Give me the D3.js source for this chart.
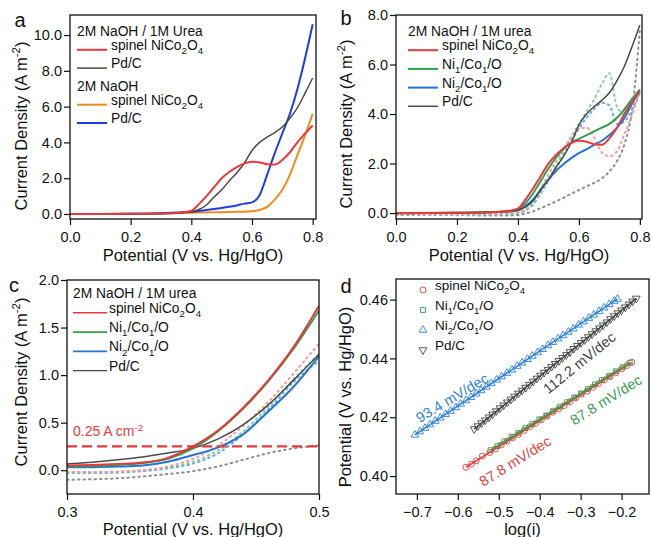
<!DOCTYPE html>
<html>
<head>
<meta charset="utf-8">
<script src="https://cdn.jsdelivr.net/npm/d3@7"></script>
<style>
  body { margin: 0; background: #fff; }
  text { font-family: Arial, "Liberation Sans", sans-serif; fill: #111; }
</style>
</head>
<body>
<svg id="fig" width="651" height="537"></svg>
<script>
// ---- panel a / b : LSV curves, potential grid (V vs Hg/HgO)
const potAB = [0, 0.1, 0.2, 0.3, 0.35, 0.4, 0.425, 0.45, 0.475, 0.5, 0.525, 0.55, 0.575, 0.6, 0.625, 0.65, 0.675, 0.7, 0.725, 0.75, 0.775, 0.8];

// 2M NaOH / 1M urea
const spinelUrea = [0, 0, 0.01, 0.03, 0.06, 0.18, 0.55, 1.0, 1.5, 2.0, 2.35, 2.62, 2.83, 2.92, 2.88, 2.78, 2.76, 3.02, 3.45, 4.02, 4.5, 4.95];
const pdcUrea = [-0.02, -0.01, 0, 0.03, 0.06, 0.12, 0.25, 0.5, 0.95, 1.35, 1.85, 2.3, 2.85, 3.55, 4.0, 4.3, 4.55, 4.86, 5.35, 5.95, 6.75, 7.6];
const ni1Urea = [0, 0, 0.01, 0.03, 0.05, 0.12, 0.4, 0.8, 1.3, 1.8, 2.25, 2.6, 2.85, 3.0, 3.15, 3.3, 3.45, 3.6, 3.85, 4.2, 4.62, 5.0];
const ni2Urea = [0, 0, 0.01, 0.03, 0.05, 0.1, 0.28, 0.55, 0.95, 1.35, 1.7, 1.98, 2.22, 2.42, 2.58, 2.75, 2.92, 3.15, 3.45, 3.85, 4.45, 4.92];
// 2M NaOH only
const spinelNaOH = [0, 0, 0.01, 0.03, 0.05, 0.07, 0.08, 0.09, 0.095, 0.1, 0.11, 0.12, 0.13, 0.15, 0.22, 0.4, 0.8, 1.35, 2.2, 3.3, 4.4, 5.6];
const pdcNaOH = [0, 0, 0.01, 0.04, 0.08, 0.13, 0.17, 0.22, 0.28, 0.34, 0.4, 0.48, 0.58, 0.65, 1.05, 2.2, 3.4, 4.5, 5.6, 7.0, 8.7, 10.6];
// dotted curves in b
const spinelRev = [-0.05, -0.05, -0.05, -0.04, -0.02, 0.02, 0.15, 0.5, 1.0, 1.55, 2.1, 2.6, 3.05, 3.4, 3.45, 3.05, 2.45, 2.3, 2.5, 3.2, 4.0, 4.9];
const ni1Rev = [-0.06, -0.06, -0.06, -0.05, -0.04, 0.0, 0.1, 0.4, 0.85, 1.35, 1.9, 2.5, 3.1, 3.6, 4.1, 4.6, 5.2, 5.65, 4.3, 4.0, 4.4, 4.95];
const ni2Rev = [-0.06, -0.06, -0.06, -0.05, -0.04, 0.0, 0.1, 0.35, 0.8, 1.3, 1.8, 2.35, 2.9, 3.4, 3.85, 4.2, 4.45, 4.35, 3.6, 3.7, 4.2, 4.85];
const pdcRev = [-0.08, -0.08, -0.08, -0.1, -0.1, -0.08, -0.02, 0.07, 0.2, 0.33, 0.47, 0.62, 0.78, 0.93, 1.08, 1.22, 1.4, 1.68, 2.1, 2.8, 4.2, 7.4];

// ---- panel c : zoom 0.3-0.5 V
const potC = [0.3, 0.32, 0.34, 0.36, 0.38, 0.4, 0.42, 0.44, 0.46, 0.48, 0.5];
const spinelC = [0.05, 0.055, 0.065, 0.08, 0.13, 0.25, 0.42, 0.66, 0.95, 1.3, 1.73];
const ni1C = [0.04, 0.045, 0.055, 0.075, 0.12, 0.23, 0.41, 0.65, 0.94, 1.28, 1.68];
const ni2C = [0.03, 0.032, 0.038, 0.05, 0.09, 0.16, 0.24, 0.38, 0.62, 0.88, 1.2];
const pdcC = [0.065, 0.085, 0.11, 0.14, 0.18, 0.23, 0.33, 0.48, 0.69, 0.95, 1.22];
const spinelCRev = [-0.02, -0.02, -0.015, 0.0, 0.04, 0.12, 0.26, 0.47, 0.72, 1.02, 1.33];
const ni1CRev = [-0.02, -0.02, -0.015, 0.0, 0.03, 0.09, 0.21, 0.41, 0.67, 0.96, 1.22];
const ni2CRev = [-0.03, -0.03, -0.025, -0.01, 0.02, 0.07, 0.18, 0.38, 0.64, 0.93, 1.15];
const pdcCRev = [-0.1, -0.095, -0.085, -0.065, -0.04, -0.01, 0.04, 0.11, 0.18, 0.23, 0.26];
const refCurrent = 0.25;

// ---- panel d : Tafel data, log(i) and potential
const spinelLog = [-0.580, -0.567, -0.555, -0.540, -0.522, -0.508, -0.494, -0.480, -0.466, -0.452, -0.438, -0.424, -0.410, -0.396, -0.382, -0.368, -0.354, -0.340, -0.326, -0.312, -0.298, -0.284, -0.270, -0.256, -0.242, -0.228, -0.214, -0.200, -0.187, -0.175];
const spinelE = [0.4030, 0.4040, 0.4052, 0.4068, 0.4080, 0.4092, 0.4106, 0.4119, 0.4130, 0.4141, 0.4155, 0.4168, 0.4179, 0.4191, 0.4204, 0.4217, 0.4228, 0.4240, 0.4253, 0.4266, 0.4278, 0.4289, 0.4302, 0.4315, 0.4327, 0.4338, 0.4351, 0.4364, 0.4376, 0.4387];
const ni1Log = [-0.520, -0.503, -0.486, -0.469, -0.452, -0.435, -0.418, -0.401, -0.384, -0.367, -0.350, -0.333, -0.316, -0.299, -0.282, -0.265, -0.248, -0.231, -0.214, -0.197, -0.180];
const ni1E = [0.4088, 0.4102, 0.4118, 0.4134, 0.4147, 0.4163, 0.4177, 0.4193, 0.4206, 0.4222, 0.4236, 0.4251, 0.4267, 0.4281, 0.4296, 0.4311, 0.4326, 0.4341, 0.4356, 0.4370, 0.4385];
const ni2Log = [-0.705, -0.693, -0.680, -0.668, -0.655, -0.643, -0.630, -0.618, -0.605, -0.593, -0.580, -0.568, -0.555, -0.543, -0.530, -0.518, -0.505, -0.493, -0.480, -0.468, -0.455, -0.443, -0.430, -0.418, -0.405, -0.393, -0.380, -0.368, -0.355, -0.343, -0.330, -0.318, -0.305, -0.293, -0.280, -0.268, -0.255, -0.243, -0.230, -0.218, -0.210];
const ni2E = [0.4140, 0.4151, 0.4163, 0.4175, 0.4187, 0.4198, 0.4210, 0.4221, 0.4233, 0.4245, 0.4257, 0.4268, 0.4280, 0.4291, 0.4303, 0.4315, 0.4327, 0.4338, 0.4350, 0.4361, 0.4374, 0.4385, 0.4397, 0.4408, 0.4420, 0.4431, 0.4444, 0.4455, 0.4467, 0.4478, 0.4490, 0.4501, 0.4514, 0.4525, 0.4537, 0.4548, 0.4560, 0.4572, 0.4584, 0.4595, 0.4602];
const pdcLog = [-0.560, -0.551, -0.542, -0.533, -0.524, -0.515, -0.506, -0.497, -0.488, -0.479, -0.470, -0.461, -0.452, -0.443, -0.434, -0.425, -0.416, -0.407, -0.398, -0.389, -0.380, -0.371, -0.362, -0.353, -0.344, -0.335, -0.326, -0.317, -0.308, -0.299, -0.290, -0.281, -0.272, -0.263, -0.254, -0.245, -0.236, -0.227, -0.218, -0.209, -0.200, -0.191, -0.182, -0.173, -0.164];
const pdcE = [0.4160, 0.4170, 0.4180, 0.4190, 0.4200, 0.4210, 0.4221, 0.4231, 0.4241, 0.4251, 0.4261, 0.4271, 0.4281, 0.4291, 0.4301, 0.4311, 0.4322, 0.4332, 0.4342, 0.4352, 0.4362, 0.4372, 0.4382, 0.4392, 0.4402, 0.4412, 0.4422, 0.4433, 0.4443, 0.4453, 0.4463, 0.4473, 0.4483, 0.4493, 0.4503, 0.4513, 0.4523, 0.4534, 0.4544, 0.4554, 0.4564, 0.4574, 0.4584, 0.4594, 0.4604];
const tafelLabels = ["93.4 mV/dec", "112.2 mV/dec", "87.8 mV/dec", "87.8 mV/dec"];

// colours
const RED = "#e5393d", GRAY = "#4a4a4a", ORANGE = "#f18b1c", BLUE_A = "#2339e3",
      GREEN = "#2ea14f", BLUE = "#2474d8";
const RED_L = "#f29b9b", GREEN_L = "#86d198", BLUE_L = "#63aee8", GRAY_L = "#8e8e8e";

const svg = d3.select("#fig");
svg.append("rect").attr("width", 651).attr("height", 537).attr("fill", "#fff");

// rich text with sub/superscripts: parts = [[text, 0|1|2]], 1 = sub, 2 = sup
function rich(sel, parts, fs) {
    let shift = 0;
    parts.forEach(([t, k]) => {
        const target = k === 1 ? fs * 0.3 : k === 2 ? -fs * 0.4 : 0;
        sel.append("tspan")
            .attr("dy", target - shift)
            .attr("font-size", k ? fs * 0.7 : fs)
            .text(t);
        shift = target;
    });
    return sel;
}

let clipId = 0;
function panel(o) {
    const g = svg.append("g");
    const x = d3.scaleLinear().domain(o.xd).range([o.l, o.r]);
    const y = d3.scaleLinear().domain(o.yd).range([o.b, o.t]);

    const id = "clip" + (clipId++);
    g.append("clipPath").attr("id", id).append("rect")
        .attr("x", o.l).attr("y", o.t).attr("width", o.r - o.l).attr("height", o.b - o.t);
    const plot = g.append("g").attr("clip-path", `url(#${id})`);

    const xa = g.append("g")
        .attr("transform", `translate(0,${o.b})`)
        .call(d3.axisBottom(x).tickValues(o.xt).tickFormat(d3.format(o.xf)).tickSize(6).tickPadding(7));
    const ya = g.append("g")
        .attr("transform", `translate(${o.l},0)`)
        .call(d3.axisLeft(y).tickValues(o.yt).tickFormat(d3.format(o.yf)).tickSize(6).tickPadding(2));
    [xa, ya].forEach(a => {
        a.select(".domain").remove();
        a.selectAll("line").attr("stroke", "#111").attr("stroke-width", 1.2);
        a.selectAll("text").attr("font-size", 14.5).attr("fill", "#111")
            .style("font-family", "Arial, 'Liberation Sans', sans-serif");
    });

    g.append("rect")
        .attr("x", o.l).attr("y", o.t).attr("width", o.r - o.l).attr("height", o.b - o.t)
        .attr("fill", "none").attr("stroke", "#111").attr("stroke-width", 1.3);

    // axis titles
    rich(g.append("text").attr("x", (o.l + o.r) / 2).attr("y", o.xty)
        .attr("text-anchor", "middle").attr("font-size", 16.5), o.xtitle, 16.5);
    rich(g.append("text")
        .attr("transform", `translate(${o.ytx},${o.yty}) rotate(-90)`)
        .attr("text-anchor", "middle").attr("font-size", 16.5), o.ytitle, 16.5);

    g.append("text").attr("x", o.lx).attr("y", o.ly)
        .attr("font-size", 20).attr("text-anchor", "middle").text(o.letter);

    return {g, plot, x, y};
}

function curve(p, xs, ys, color, width, dotted) {
    const line = d3.line()
        .x((d, i) => p.x(xs[i]))
        .y(d => p.y(d))
        .curve(d3.curveMonotoneX);
    const path = p.plot.append("path")
        .attr("d", line(ys))
        .attr("fill", "none")
        .attr("stroke", color)
        .attr("stroke-width", width)
        .attr("stroke-linejoin", "round");
    if (dotted) path.attr("stroke-dasharray", "1.5,4").attr("stroke-linecap", "round");
}

function legendLines(g, items, x0, x1, tx, y0, dy, fs, title) {
    let row = 0;
    if (title) {
        g.append("text").attr("x", x0).attr("y", y0).attr("dy", "0.35em")
            .attr("font-size", fs).text(title);
        row = 1;
    }
    items.forEach(it => {
        const yy = y0 + dy * row;
        if (it.header) {
            g.append("text").attr("x", x0).attr("y", yy).attr("dy", "0.35em")
                .attr("font-size", fs).text(it.header);
        } else {
            g.append("line").attr("x1", x0).attr("x2", x1).attr("y1", yy).attr("y2", yy)
                .attr("stroke", it.color).attr("stroke-width", it.w);
            rich(g.append("text").attr("x", tx).attr("y", yy).attr("dy", "0.35em")
                .attr("font-size", fs), it.label, fs);
        }
        row++;
    });
}

const lblSpinel = [["spinel NiCo", 0], ["2", 1], ["O", 0], ["4", 1]];
const lblNi1 = [["Ni", 0], ["1", 1], ["/Co", 0], ["1", 1], ["/O", 0]];
const lblNi2 = [["Ni", 0], ["2", 1], ["/Co", 0], ["1", 1], ["/O", 0]];
const lblPd = [["Pd/C", 0]];
const titlePot = [["Potential (V vs. Hg/HgO)", 0]];
const titleCD = [["Current Density (A m", 0], ["-2", 2], [")", 0]];

// ---------------- panel a
const pa = panel({
    l: 70, r: 316, t: 15, b: 219,
    xd: [0, 0.811], yd: [-0.28, 11.12],
    xt: [0, 0.2, 0.4, 0.6, 0.8], xf: ".1f",
    yt: [0, 2, 4, 6, 8, 10], yf: ".1f",
    xtitle: titlePot, xty: 261, ytitle: titleCD, ytx: 27, yty: 126,
    letter: "a", lx: 20, ly: 27
});
curve(pa, potAB, spinelNaOH, ORANGE, 2);
curve(pa, potAB, pdcNaOH, BLUE_A, 2);
curve(pa, potAB, pdcUrea, GRAY, 1.5);
curve(pa, potAB, spinelUrea, RED, 2);
legendLines(pa.g, [
    {color: RED, w: 2, label: lblSpinel},
    {color: GRAY, w: 1.5, label: lblPd},
    {header: "2M NaOH"},
    {color: ORANGE, w: 2, label: lblSpinel},
    {color: BLUE_A, w: 2, label: lblPd}
], 77, 107, 111, 31.5, 18.3, 13.8, "2M NaOH / 1M Urea");

// ---------------- panel b
const pb = panel({
    l: 396, r: 642, t: 15, b: 219,
    xd: [0, 0.807], yd: [-0.24, 8.0],
    xt: [0, 0.2, 0.4, 0.6, 0.8], xf: ".1f",
    yt: [0, 2, 4, 6, 8], yf: ".1f",
    xtitle: titlePot, xty: 261, ytitle: titleCD, ytx: 352, yty: 124,
    letter: "b", lx: 346, ly: 25
});
curve(pb, potAB, pdcRev, GRAY_L, 2, true);
curve(pb, potAB, ni2Rev, BLUE_L, 2, true);
curve(pb, potAB, ni1Rev, GREEN_L, 2, true);
curve(pb, potAB, spinelRev, RED_L, 2, true);
curve(pb, potAB, ni2Urea, BLUE, 2);
curve(pb, potAB, ni1Urea, GREEN, 2);
curve(pb, potAB, pdcUrea, GRAY, 1.5);
curve(pb, potAB, spinelUrea, RED, 2);
legendLines(pb.g, [
    {color: RED, w: 2, label: lblSpinel},
    {color: GREEN, w: 2, label: lblNi1},
    {color: BLUE, w: 2, label: lblNi2},
    {color: GRAY, w: 1.5, label: lblPd}
], 408, 438, 442, 31.5, 18.7, 13.8, "2M NaOH / 1M urea");

// ---------------- panel c
const pc = panel({
    l: 67, r: 319, t: 280, b: 494,
    xd: [0.3, 0.5], yd: [-0.25, 2.0],
    xt: [0.3, 0.4, 0.5], xf: ".1f",
    yt: [0, 0.5, 1.0, 1.5, 2.0], yf: ".1f",
    xtitle: titlePot, xty: 535, ytitle: titleCD, ytx: 27, yty: 382,
    letter: "c", lx: 14, ly: 292
});
curve(pc, potC, pdcCRev, GRAY_L, 2, true);
curve(pc, potC, ni1CRev, GREEN_L, 2, true);
curve(pc, potC, ni2CRev, BLUE_L, 2, true);
curve(pc, potC, spinelCRev, RED_L, 2, true);
curve(pc, potC, pdcC, GRAY, 1.5);
curve(pc, potC, ni2C, BLUE, 2);
curve(pc, potC, ni1C, GREEN, 2);
curve(pc, potC, spinelC, RED, 2);
pc.plot.append("line")
    .attr("x1", pc.x(0.3)).attr("x2", pc.x(0.5))
    .attr("y1", pc.y(refCurrent)).attr("y2", pc.y(refCurrent))
    .attr("stroke", RED).attr("stroke-width", 2.2).attr("stroke-dasharray", "10,5");
rich(pc.g.append("text").attr("x", pc.x(0.3) + 6).attr("y", pc.y(refCurrent) - 10)
    .attr("font-size", 14).style("fill", RED),
    [["0.25 A cm", 0], ["-2", 2]], 14);
legendLines(pc.g, [
    {color: RED, w: 1.6, label: lblSpinel},
    {color: GREEN, w: 1.6, label: lblNi1},
    {color: BLUE, w: 1.6, label: lblNi2},
    {color: GRAY, w: 1.3, label: lblPd}
], 73, 107, 109, 293.5, 19.3, 13.8, "2M NaOH / 1M urea");

// ---------------- panel d
const pd = panel({
    l: 396, r: 649, t: 279, b: 494,
    xd: [-0.751, -0.133], yd: [0.3939, 0.4670],
    xt: [-0.7, -0.6, -0.5, -0.4, -0.3, -0.2], xf: ".1f",
    yt: [0.40, 0.42, 0.44, 0.46], yf: ".2f",
    xtitle: [["log(i)", 0]], xty: 535, ytitle: titlePot, ytx: 351, yty: 397,
    letter: "d", lx: 346, ly: 293
});

const tafel = [
    {xs: ni2Log, ys: ni2E, color: "#2f80d8", sym: d3.symbolTriangle, rot: 0, size: 26, label: lblNi2},
    {xs: pdcLog, ys: pdcE, color: "#444", sym: d3.symbolTriangle, rot: 180, size: 26, label: lblPd},
    {xs: spinelLog, ys: spinelE, color: "#e0403e", sym: d3.symbolCircle, rot: 0, size: 28, label: lblSpinel},
    {xs: ni1Log, ys: ni1E, color: "#3a9d50", sym: d3.symbolSquare, rot: 0, size: 24, label: lblNi1}
];

function fit(xs, ys) {
    const mx = d3.mean(xs), my = d3.mean(ys);
    const b = d3.sum(xs, (v, i) => (v - mx) * (ys[i] - my)) / d3.sum(xs, v => (v - mx) * (v - mx));
    return {b, a: my - b * mx};
}

tafel.forEach(s => {
    s.xs.forEach((v, i) => {
        pd.plot.append("path")
            .attr("d", d3.symbol(s.sym, s.size)())
            .attr("transform", `translate(${pd.x(v)},${pd.y(s.ys[i])}) rotate(${s.rot})`)
            .attr("fill", "none").attr("stroke", s.color).attr("stroke-width", 0.9);
    });
});
tafel.forEach(s => {
    const f = fit(s.xs, s.ys);
    const [x0, x1] = d3.extent(s.xs);
    pd.plot.append("line")
        .attr("x1", pd.x(x0)).attr("y1", pd.y(f.a + f.b * x0))
        .attr("x2", pd.x(x1)).attr("y2", pd.y(f.a + f.b * x1))
        .attr("stroke", s.color).attr("stroke-width", 1.6);
});

// slope annotations: [log(i), E, angle, colour]
const tafelAnno = [[-0.614, 0.4266, -31, "#2f80d8"], [-0.303, 0.4385, -39, "#444"],
                   [-0.460, 0.4051, -32, "#e0403e"], [-0.238, 0.4259, -32, "#3a9d50"]];
tafelAnno.forEach((a, i) => {
    pd.g.append("text")
        .attr("transform", `translate(${pd.x(a[0])},${pd.y(a[1])}) rotate(${a[2]})`)
        .attr("text-anchor", "middle").attr("dy", "0.35em")
        .attr("font-size", 14.5).style("fill", a[3])
        .text(tafelLabels[i]);
});

// legend d
const legOrder = [tafel[2], tafel[3], tafel[0], tafel[1]];
legOrder.forEach((s, i) => {
    const yy = 290 + i * 20;
    pd.g.append("path")
        .attr("d", d3.symbol(s.sym, s.size)())
        .attr("transform", `translate(423,${yy}) rotate(${s.rot})`)
        .attr("fill", "none").attr("stroke", s.color).attr("stroke-width", 0.9);
    rich(pd.g.append("text").attr("x", 435).attr("y", yy).attr("dy", "0.35em")
        .attr("font-size", 13.5), s.label, 13.5);
});
</script>
</body>
</html>
